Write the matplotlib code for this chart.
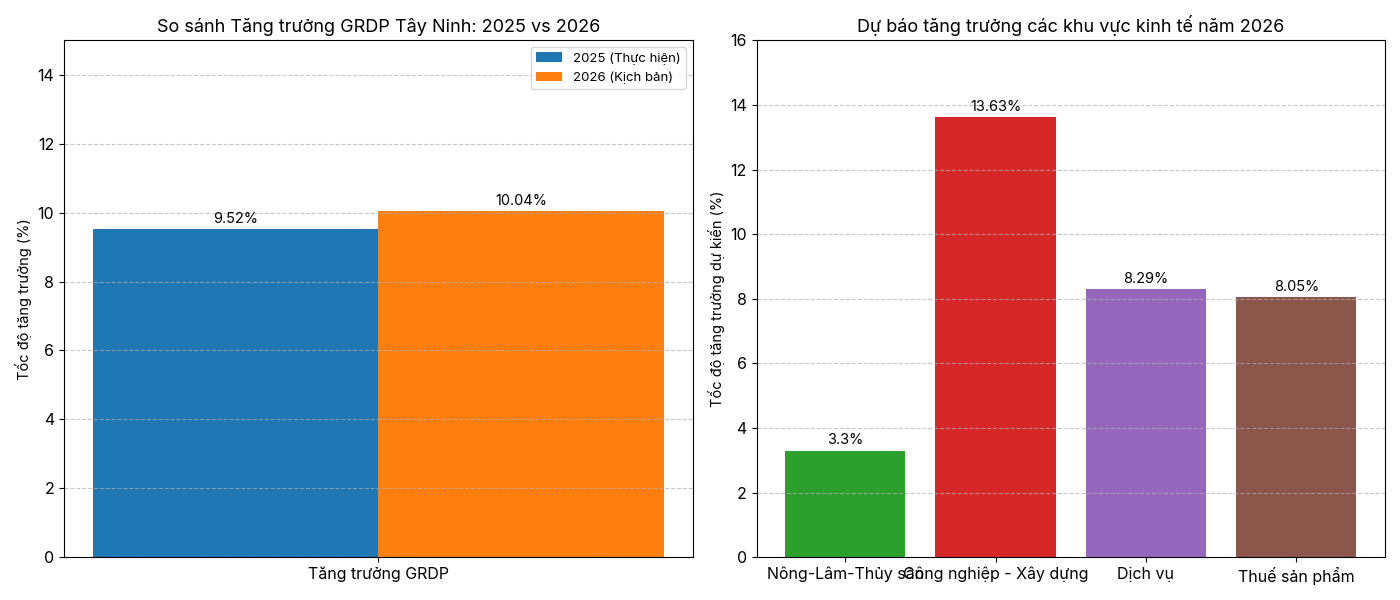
import matplotlib
matplotlib.use('Agg')
import matplotlib.pyplot as plt
import numpy as np

plt.rcParams['font.family'] = ['Inter', 'DejaVu Sans']

# du lieu
grdp_category = ['Tăng trưởng GRDP']
grdp_2025 = [9.52]
grdp_2026 = [10.04]
series_labels = ['2025 (Thực hiện)', '2026 (Kịch bản)']

sectors = ['Nông-Lâm-Thủy sản', 'Công nghiệp - Xây dựng', 'Dịch vụ', 'Thuế sản phẩm']
sector_growth = [3.3, 13.63, 8.29, 8.05]
sector_colors = ['#2ca02c', '#d62728', '#9467bd', '#8c564b']

fig, (ax1, ax2) = plt.subplots(1, 2, figsize=(14, 6), dpi=100)

# bieu do 1
x = np.arange(len(grdp_category))
width = 0.35
b1 = ax1.bar(x - width / 2, grdp_2025, width, label=series_labels[0], color='#1f77b4')
b2 = ax1.bar(x + width / 2, grdp_2026, width, label=series_labels[1], color='#ff7f0e')
ax1.set_title('So sánh Tăng trưởng GRDP Tây Ninh: 2025 vs 2026', fontsize=13)
ax1.set_ylabel('Tốc độ tăng trưởng (%)', fontsize=10.5)
ax1.set_xticks(x)
ax1.set_xticklabels(grdp_category, fontsize=11.5)
ax1.tick_params(axis='y', labelsize=11.5)
ax1.set_ylim(0, 15)
ax1.legend(fontsize=9.5)
ax1.grid(axis='y', linestyle='--', alpha=0.7)
for bars in (b1, b2):
    for rect in bars:
        h = rect.get_height()
        ax1.text(rect.get_x() + rect.get_width() / 2, h + 0.1, f'{h}%',
                 ha='center', va='bottom', fontsize=10.5)

# bieu do 2
b3 = ax2.bar(sectors, sector_growth, color=sector_colors)
ax2.set_title('Dự báo tăng trưởng các khu vực kinh tế năm 2026', fontsize=13)
ax2.set_ylabel('Tốc độ tăng trưởng dự kiến (%)', fontsize=10.5)
ax2.tick_params(axis='x', labelsize=11.5)
ax2.tick_params(axis='y', labelsize=11.5)
ax2.set_ylim(0, 16)
ax2.grid(axis='y', linestyle='--', alpha=0.7)
for rect in b3:
    h = rect.get_height()
    ax2.text(rect.get_x() + rect.get_width() / 2, h + 0.1, f'{h}%',
             ha='center', va='bottom', fontsize=10.5)

plt.tight_layout()
plt.savefig('out.png')
